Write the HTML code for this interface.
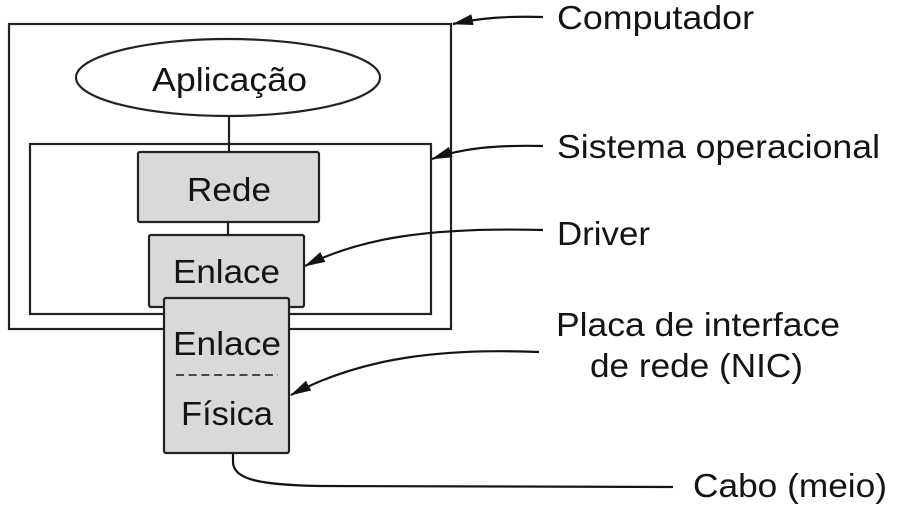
<!DOCTYPE html>
<html>
<head>
<meta charset="utf-8">
<style>
html,body{margin:0;padding:0;background:#fff;}
svg{display:block;}
text{font-family:"Liberation Sans",Arial,sans-serif;font-size:33px;fill:#141414;}
</style>
</head>
<body>
<svg width="900" height="516" viewBox="0 0 900 516" xmlns="http://www.w3.org/2000/svg">
<defs>
<marker id="ah" markerUnits="userSpaceOnUse" markerWidth="24" markerHeight="14" refX="20" refY="5.5" orient="auto">
<path d="M0,0 L21,5.5 L0,11 Z" fill="#141414"/>
</marker>
</defs>
<g fill="none" stroke="#222" stroke-width="2.2">
<!-- outer computer box -->
<rect x="9" y="24" width="442" height="305"/>
<!-- OS box -->
<rect x="30" y="144" width="401" height="170"/>
<!-- ellipse -->
<ellipse cx="228" cy="77.5" rx="152" ry="38.5" fill="#fff"/>
<!-- connectors -->
<line x1="229" y1="116" x2="229" y2="152"/>
<line x1="228" y1="222" x2="228" y2="235"/>
</g>
<!-- Rede box -->
<rect x="138" y="152" width="181" height="70" rx="2" fill="#d9d9d9" stroke="#222" stroke-width="2.2"/>
<!-- Enlace driver box -->
<rect x="149" y="235" width="155" height="72" rx="2" fill="#d9d9d9" stroke="#222" stroke-width="2.2"/>
<!-- NIC box -->
<rect x="164" y="298" width="125" height="155" rx="2" fill="#d9d9d9" stroke="#222" stroke-width="2.2"/>
<line x1="176" y1="375" x2="278" y2="375" stroke="#333" stroke-width="1.8" stroke-dasharray="8,4.7"/>

<!-- arrows -->
<g fill="none" stroke="#141414" stroke-width="2.2">
<path d="M543,17 C505,16 480,18 453,24" marker-end="url(#ah)"/>
<path d="M543,146 C495,145 462,148 432,159" marker-end="url(#ah)"/>
<path d="M543,230 C430,227 360,238 305,266" marker-end="url(#ah)"/>
<path d="M539,352 C440,348 360,358 291,395" marker-end="url(#ah)"/>
<path d="M233,453 L233,462 C233,480 262,485 320,486 L673,487"/>
</g>

<!-- labels inside -->
<text x="152" y="91" textLength="155" lengthAdjust="spacingAndGlyphs">Aplicação</text>
<text x="187" y="201" textLength="84" lengthAdjust="spacingAndGlyphs">Rede</text>
<text x="173" y="283" textLength="107" lengthAdjust="spacingAndGlyphs">Enlace</text>
<text x="173" y="355" textLength="108" lengthAdjust="spacingAndGlyphs">Enlace</text>
<text x="181" y="425" textLength="92" lengthAdjust="spacingAndGlyphs">Física</text>

<!-- labels right -->
<text x="557" y="29" textLength="197" lengthAdjust="spacingAndGlyphs">Computador</text>
<text x="557" y="158" textLength="323" lengthAdjust="spacingAndGlyphs">Sistema operacional</text>
<text x="557" y="245" textLength="93" lengthAdjust="spacingAndGlyphs">Driver</text>
<text x="556" y="336" textLength="284" lengthAdjust="spacingAndGlyphs">Placa de interface</text>
<text x="590" y="377" textLength="213" lengthAdjust="spacingAndGlyphs">de rede (NIC)</text>
<text x="693" y="497" textLength="194" lengthAdjust="spacingAndGlyphs">Cabo (meio)</text>
</svg>
</body>
</html>
